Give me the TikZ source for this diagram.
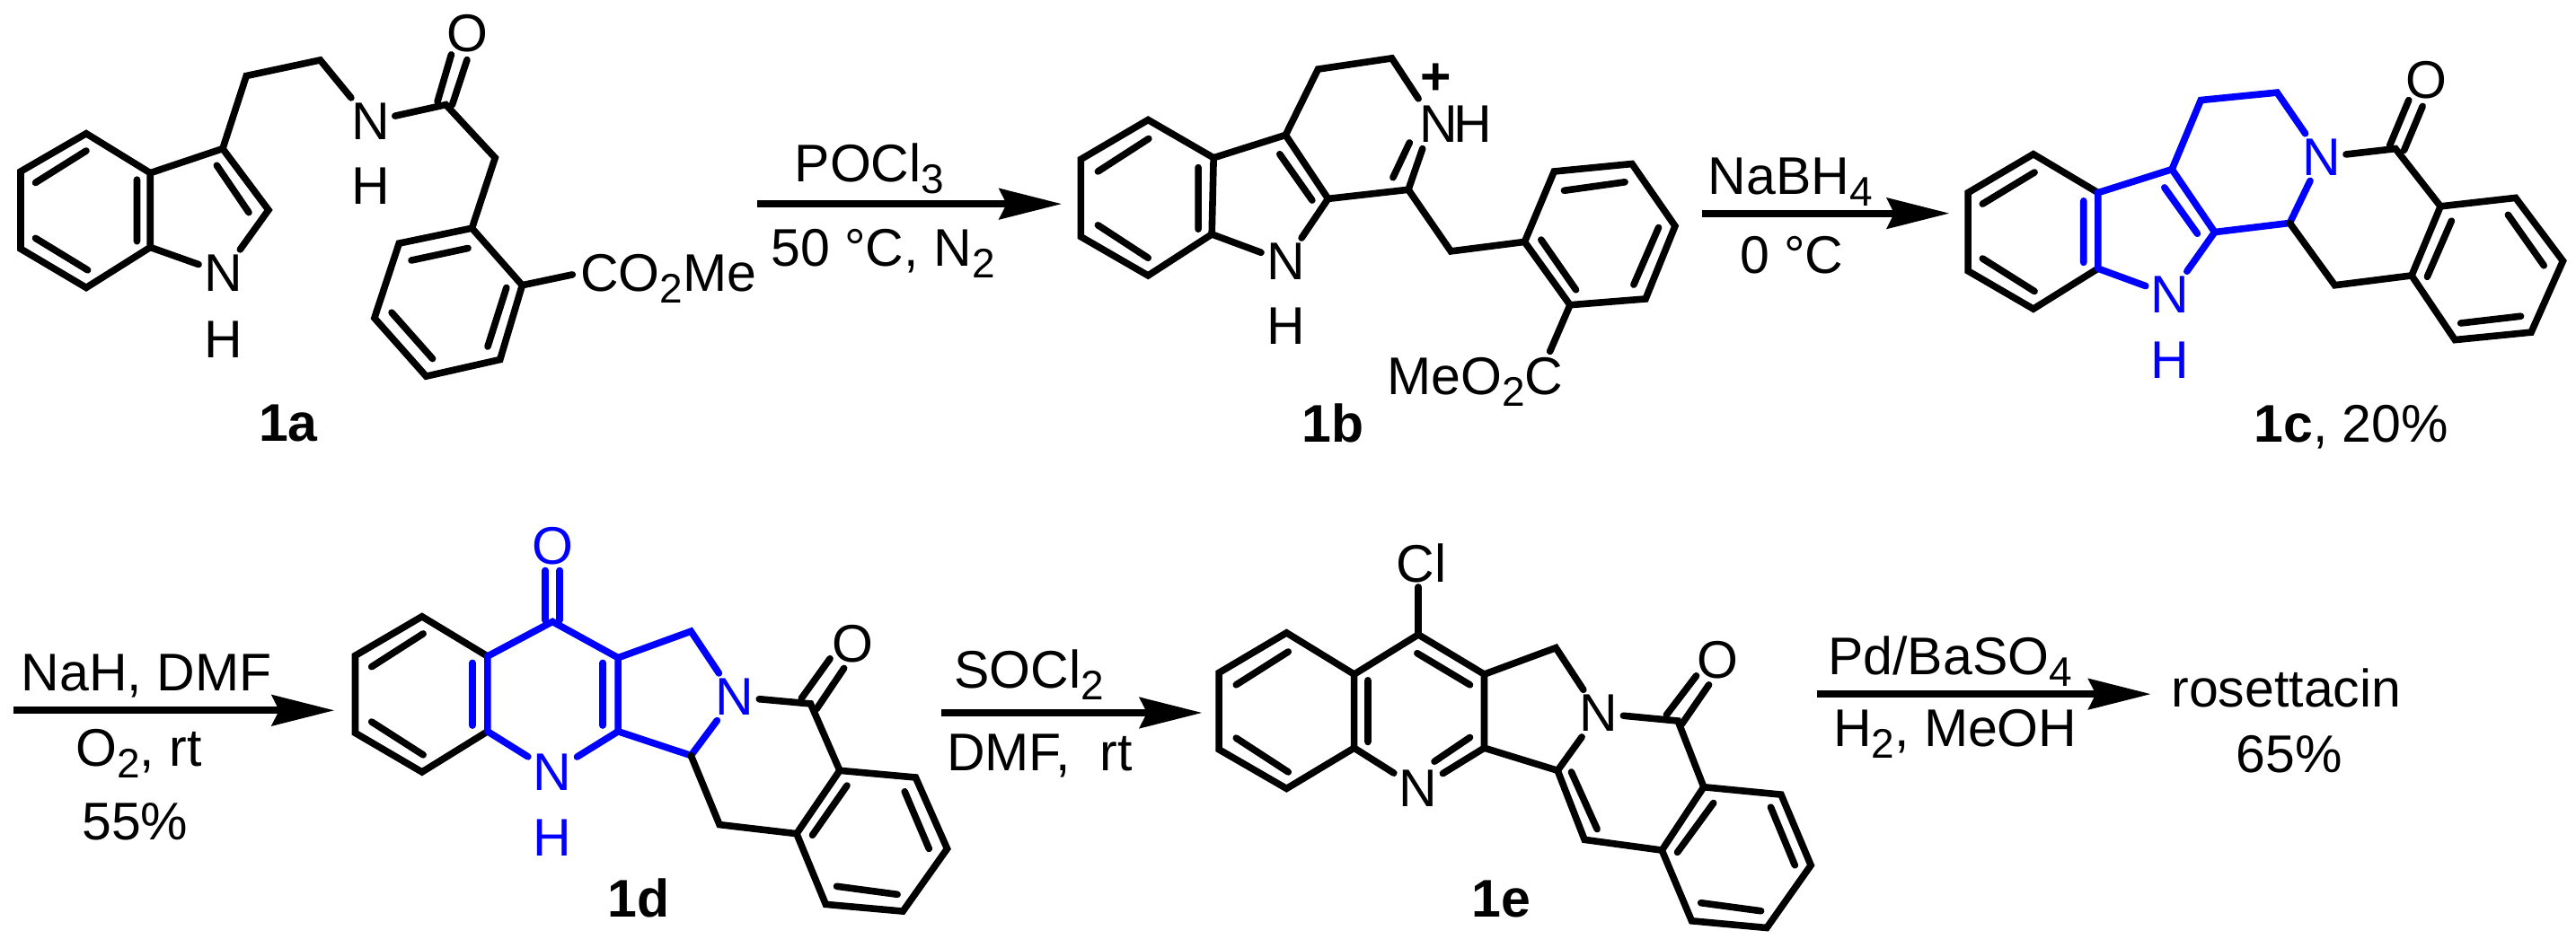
\documentclass[tikz,border=0pt]{standalone}
\usepackage{fontspec}
\setmainfont{Liberation Sans}
\usetikzlibrary{arrows.meta}
\definecolor{bl}{RGB}{0,0,255}
\newcommand\sbs[1]{\raisebox{-0.22em}{\fontsize{23}{25}\selectfont #1}}
\tikzset{
  bond/.style={line width=3.8pt,line cap=round,line join=miter,miter limit=10},
  bbond/.style={bond,draw=bl},
  atom/.style={inner sep=0pt,outer sep=3pt,font=\fontsize{29.5}{35}\selectfont},
  batom/.style={atom,text=bl},
  label/.style={inner sep=0pt,outer sep=0pt,font=\fontsize{29.5}{35}\selectfont},
  cpd/.style={label,font=\fontsize{29.5}{35}\selectfont\bfseries},
  rxn/.style={line width=4pt,-{Stealth[length=35pt,width=17.7pt,inset=4.5pt,line width=0pt]}},
  z1/.style={x=0.27425pt,y=-0.169pt},
  z2/.style={shift={(420pt,0pt)},x=0.3285pt,y=-0.169pt},
  z3/.style={shift={(930pt,0pt)},x=0.3215pt,y=-0.169pt},
  z4/.style={shift={(0pt,-265pt)},x=0.338pt,y=-0.1675pt},
  z5/.style={shift={(520pt,-265pt)},x=0.319pt,y=-0.1675pt},
  z6/.style={shift={(980pt,-300pt)},x=0.2895pt,y=-0.145pt},
}
\begin{document}
\begin{tikzpicture}
\fill[white] (0,0) rectangle (1434pt,-527.5pt);
\useasboundingbox (0,0) rectangle (1434pt,-527.5pt);

%% ---------- 1a
\begin{scope}[z1]
\node[atom] (aN1) at (453,900) {N};
\node[atom] (aH1) at (453,1118) {H};
\node[atom] (aN2) at (752,400) {N};
\node[atom] (aH2) at (752,612) {H};
\node[atom] (aO) at (948,110) {O};
\node[label,anchor=base west] (aE) at (1178,960) {CO\sbs{2}Me};
\node[cpd] (aL) at (585,1395) {1a};
\draw[bond] (175,440) coordinate (a1) -- (305,570) coordinate (a2) -- (305,815) coordinate (a3) -- (175,948) coordinate (a4) -- (42,820) coordinate (a5) -- (42,565) coordinate (a6) -- cycle;
\draw[bond] (175,497) -- (72,602) (72,785) -- (178,890) (278,592) -- (278,795) (440,545) -- (505,700);
\draw[bond] (a2) -- (452,490) coordinate (a7) -- (545,692) coordinate (a8) -- (aN1) -- (a3);
\draw[bond] (a7) -- (500,250) -- (650,198) -- (aN2);
\draw[bond] (aN2) -- (905,345) coordinate (a9) -- (1005,520) -- (958,752) coordinate (a10);
\draw[bond] (888,335) -- (916,180) (918,345) -- (948,197);
\draw[bond] (a10) -- (810,802) -- (760,1048) -- (865,1240) -- (1015,1185) -- (1060,940) coordinate (a11) -- cycle;
\draw[bond] (950,818) -- (835,858) (795,1030) -- (878,1182) (990,1142) -- (1028,948);
\coordinate (a12) at (1162,905);
\draw[bond] (a11) -- (a12);
\end{scope}

%% ---------- arrow 1 and 1b
\begin{scope}[z2]
\coordinate (r1s) at (5,672);
\coordinate (r1e) at (520,672);
\draw[rxn] (r1s) -- (r1e);
\node[label,anchor=base west] (r1a) at (68,600) {POCl\sbs{3}};
\node[label,anchor=base west] (r1b) at (28,878) {50 °C, N\sbs{2}};
\node[atom] (bN1) at (900,862) {N};
\node[atom] (bH1) at (900,1075) {H};
\node[atom] (bN2) at (1160,408) {N};
\node[atom] (bH2) at (1218,408) {H};
\node[label,font=\fontsize{29.5}{35}\selectfont\bfseries] (bP) at (1155,260) {+};
\node[label,anchor=base west] (bE) at (1072,1300) {MeO\sbs{2}C};
\node[cpd] (bL) at (980,1395) {1b};
\draw[bond] (667,395) coordinate (b1) -- (778,520) coordinate (b2) -- (775,772) coordinate (b3) -- (667,908) -- (553,780) -- (553,525) -- cycle;
\draw[bond] (668,457) -- (582,565) (582,742) -- (667,850) (752,552) -- (752,755) (890,508) -- (945,660);
\draw[bond] (b2) -- (900,445) coordinate (b4) -- (972,655) coordinate (b5) -- (bN1) -- (b3);
\draw[bond] (b4) -- (955,228) -- (1080,192) -- (1125,325);
\draw[bond] (b5) -- (1108,625) coordinate (b6) -- (1132,490);
\draw[bond] (1082,585) -- (1110,470);
\draw[bond] (b6) -- (1180,828) -- (1305,797) coordinate (b7);
\draw[bond] (b7) -- (1355,565) -- (1487,540) -- (1560,745) -- (1510,985) -- (1382,1005) coordinate (b8) -- cycle;
\draw[bond] (1372,628) -- (1475,600) (1532,750) -- (1490,938) (1392,955) -- (1333,790);
\coordinate (b9) at (1348,1158);
\draw[bond] (b8) -- (b9);
\end{scope}

%% ---------- arrow 2 and 1c
\begin{scope}[z3]
\coordinate (r2s) at (55,703);
\coordinate (r2e) at (482,703);
\draw[rxn] (r2s) -- (r2e);
\node[label,anchor=base west] (r2a) at (65,640) {NaBH\sbs{4}};
\node[label,anchor=base west] (r2b) at (120,900) {0 °C};
\node[batom] (cN1) at (865,972) {N};
\node[batom] (cH1) at (865,1188) {H};
\node[batom] (cN2) at (1127,518) {N};
\node[atom] (cO) at (1308,265) {O};
\node[label,anchor=base west] (cL) at (1010,1458) {\textbf{1c}, 20\%};
\draw[bond] (740,635) coordinate (c2) -- (628,508) -- (515,635) -- (515,893) -- (628,1018) -- (740,885) coordinate (c3);
\draw[bond] (630,568) -- (540,672) (540,852) -- (630,960);
\draw[bbond] (c3) -- (c2) -- (868,558) coordinate (c4) -- (942,765) coordinate (c5) -- (cN1) -- (c3);
\draw[bbond] (715,662) -- (715,865) (855,618) -- (912,770);
\draw[bbond] (c4) -- (918,330) -- (1050,305) -- (cN2) -- (1072,735) coordinate (c6) -- (c5);
\draw[bond] (cN2) -- (1255,490) coordinate (c7) -- (1333,680) coordinate (c8);
\draw[bond] (1245,480) -- (1278,330) (1270,495) -- (1302,350);
\draw[bond] (c6) -- (1150,940) -- (1283,908) coordinate (c9);
\draw[bond] (c8) -- (1463,652) -- (1545,860) -- (1490,1095) -- (1358,1120) -- (c9) -- cycle;
\draw[bond] (1352,728) -- (1310,912) (1450,708) -- (1512,875) (1472,1042) -- (1368,1065);
\end{scope}

%% ---------- arrow 4 and 1d
\begin{scope}[z4]
\coordinate (r3s) at (22,780);
\coordinate (r3e) at (550,780);
\draw[rxn] (r3s) -- (r3e);
\node[label,anchor=base west] (r3a) at (35,715) {NaH, DMF};
\node[label,anchor=base west] (r3b) at (125,965) {O\sbs{2}, rt};
\node[label,anchor=base west] (r3c) at (135,1210) {55\%};
\node[batom] (dN1) at (910,985) {N};
\node[batom] (dH1) at (910,1203) {H};
\node[batom] (dN2) at (1210,735) {N};
\node[batom] (dO1) at (910,232) {O};
\node[atom] (dO2) at (1405,560) {O};
\node[cpd] (dL) at (1052,1405) {1d};
\draw[bond] (803,600) coordinate (d2) -- (695,468) -- (585,598) -- (585,855) -- (695,985) -- (803,850) coordinate (d3);
\draw[bond] (697,525) -- (612,635) (612,818) -- (697,928);
\draw[bbond] (d3) -- (d2) -- (910,485) coordinate (d4) -- (1018,605) coordinate (d5) -- (1018,850) coordinate (d6) -- (dN1) -- (d3);
\draw[bbond] (778,622) -- (778,830) (993,622) -- (993,830) (898,315) -- (898,480) (922,315) -- (922,480);
\draw[bbond] (d5) -- (1138,517) -- (dN2) -- (1138,930) coordinate (d7) -- (d6);
\draw[bond] (dN2) -- (1335,758) coordinate (d8) -- (1383,980) coordinate (d9);
\draw[bond] (1320,740) -- (1367,608) (1345,775) -- (1390,640);
\draw[bond] (d7) -- (1185,1160) -- (1312,1190) coordinate (d10);
\draw[bond] (d9) -- (1508,1003) -- (1560,1240) -- (1487,1448) -- (1360,1425) -- (d10) -- cycle;
\draw[bond] (1395,1030) -- (1338,1195) (1490,1050) -- (1530,1240) (1378,1365) -- (1478,1392);
\end{scope}

%% ---------- arrow 5 and 1e
\begin{scope}[z5]
\coordinate (r4s) at (13,788);
\coordinate (r4e) at (467,788);
\draw[rxn] (r4s) -- (r4e);
\node[label,anchor=base west] (r4a) at (35,705) {SOCl\sbs{2}};
\node[label,anchor=base west] (r4b) at (22,980) {DMF, \ rt};
\node[atom] (eN1) at (845,1040) {N};
\node[atom] (eN2) at (1160,790) {N};
\node[atom] (eCl) at (850,290) {Cl};
\node[atom] (eO) at (1368,612) {O};
\node[cpd] (eL) at (990,1408) {1e};
\draw[bond] (733,660) coordinate (e2) -- (615,522) -- (497,655) -- (497,910) -- (615,1040) -- (733,905) coordinate (e3) -- cycle;
\draw[bond] (618,585) -- (527,695) (527,872) -- (618,985) (757,680) -- (757,885);
\draw[bond] (e2) -- (845,528) coordinate (e4) -- (960,660) coordinate (e5) -- (960,905) coordinate (e6) -- (eN1) -- (e3);
\draw[bond] (843,590) -- (935,695) (873,950) -- (935,870);
\draw[bond] (e4) -- (845,370);
\draw[bond] (e5) -- (1085,572) -- (eN2) -- (1088,980) coordinate (e7) -- (e6);
\draw[bond] (eN2) -- (1298,815) coordinate (e8) -- (1343,1035) coordinate (e9);
\draw[bond] (1278,795) -- (1330,665) (1305,825) -- (1352,695);
\draw[bond] (e7) -- (1135,1210) -- (1270,1245) coordinate (e10);
\draw[bond] (1112,985) -- (1157,1175);
\draw[bond] (e9) -- (1478,1060) -- (1530,1295) -- (1453,1503) -- (1322,1480) -- (e10) -- cycle;
\draw[bond] (1360,1088) -- (1297,1252) (1460,1102) -- (1502,1295) (1338,1420) -- (1443,1447);
\end{scope}

%% ---------- arrow 6 and product
\begin{scope}[z6]
\coordinate (r5s) at (108,597);
\coordinate (r5e) at (750,597);
\draw[rxn] (r5s) -- (r5e);
\node[label,anchor=base west] (r5a) at (130,522) {Pd/BaSO\sbs{4}};
\node[label,anchor=base west] (r5b) at (140,797) {H\sbs{2}, MeOH};
\node[label,anchor=base west] (r5c) at (790,648) {rosettacin};
\node[label,anchor=base west] (r5d) at (915,898) {65\%};
\end{scope}
\end{tikzpicture}
\end{document}
